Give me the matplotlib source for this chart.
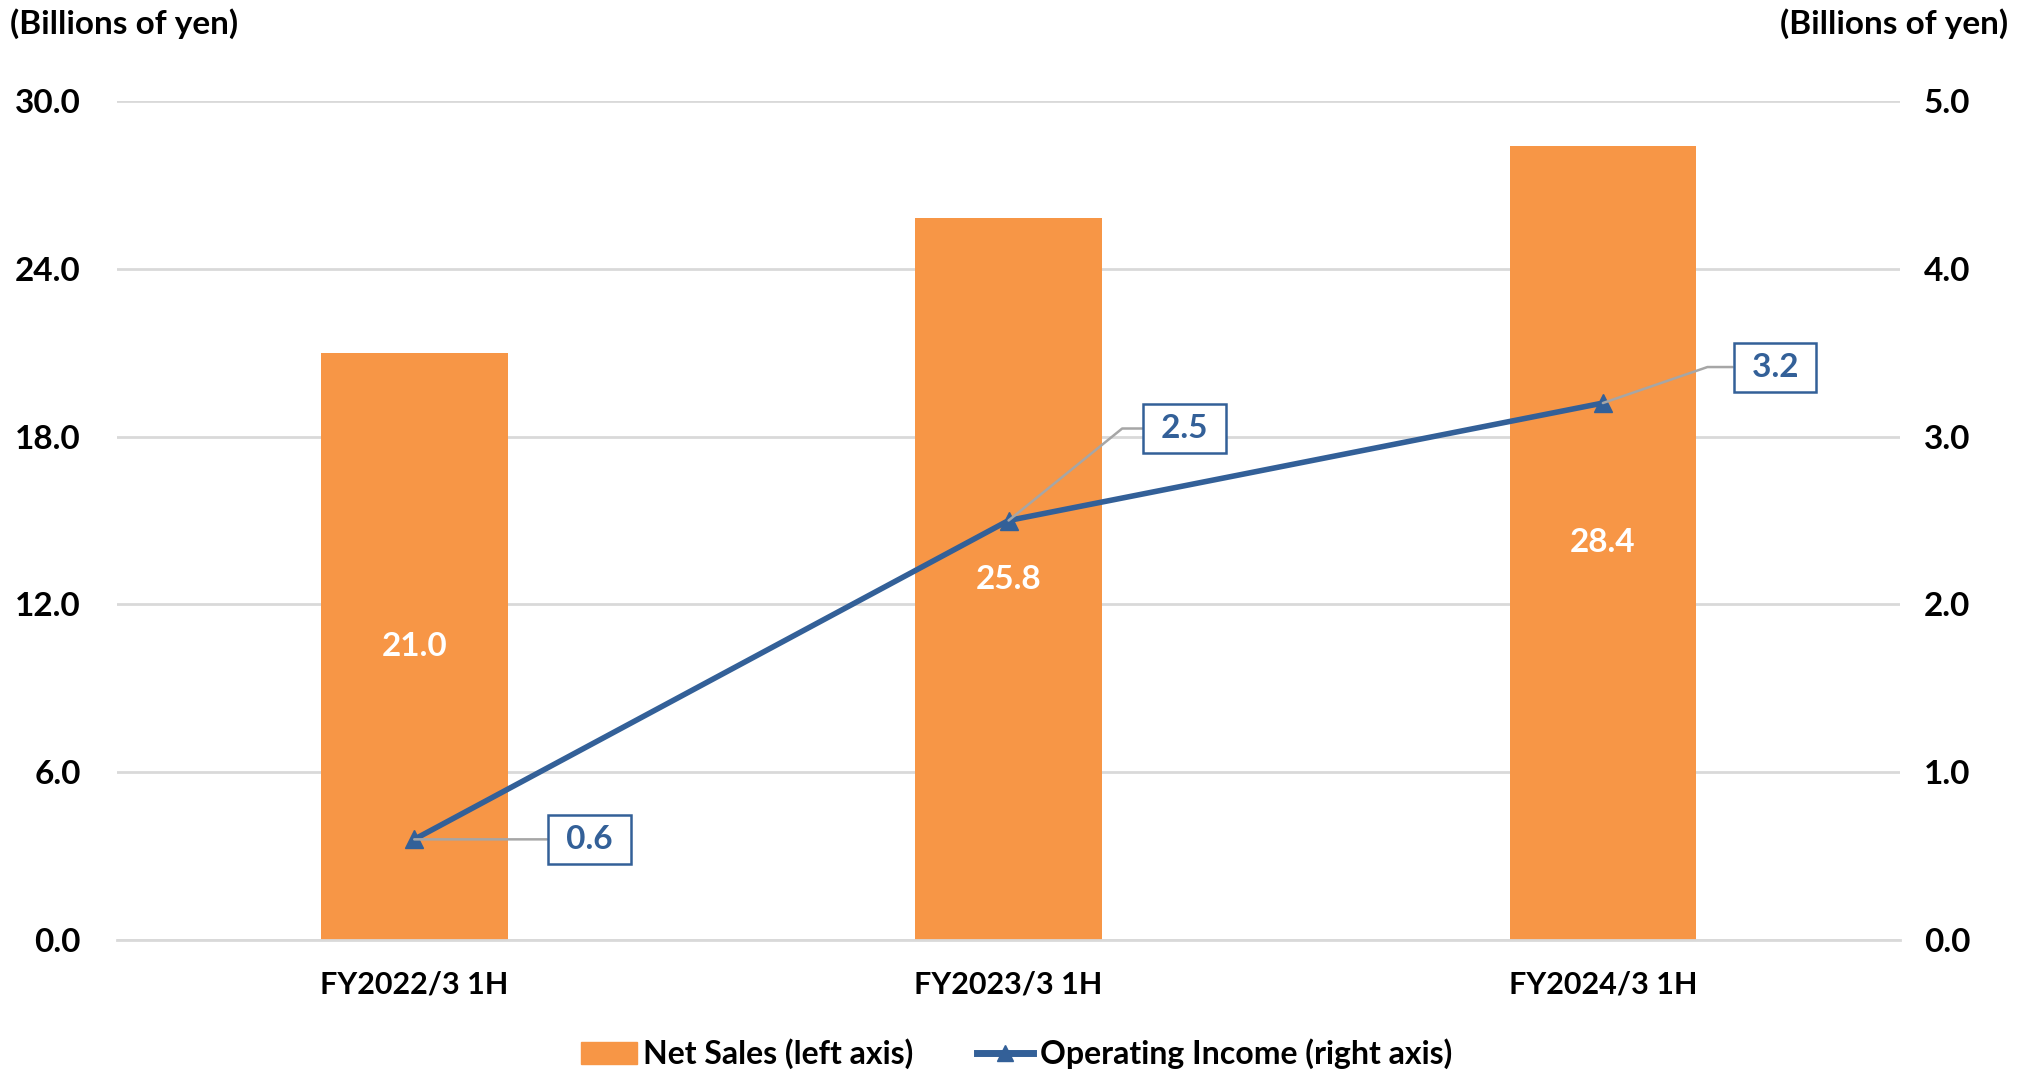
import matplotlib.pyplot as plt
from matplotlib.patches import Patch
from matplotlib.lines import Line2D

categories = ["FY2022/3 1H", "FY2023/3 1H", "FY2024/3 1H"]
net_sales = [21.0, 25.8, 28.4]
op_income = [0.6, 2.5, 3.2]
left_ticks = [0, 6, 12, 18, 24, 30]
right_ticks = [0, 1, 2, 3, 4, 5]

orange = "#F79646"
blue = "#336098"
grid_gray = "#D9D9D9"

plt.rcParams["font.family"] = ["Lato", "DejaVu Sans"]
plt.rcParams["font.weight"] = "bold"
fs = 24

fig = plt.figure(figsize=(20.33, 10.72), dpi=100)
ax = fig.add_axes([0.0576, 0.1231, 0.877, 0.7827])
ax2 = ax.twinx()

x = list(range(len(categories)))
ax.bar(x, net_sales, width=0.314, color=orange, zorder=2)
for xi, v in zip(x, net_sales):
    ax.text(xi, v / 2, "{:.1f}".format(v), ha="center", va="center",
            color="white", fontsize=fs, fontweight="bold", zorder=3)

ax.set_xlim(-0.5, 2.5)
ax.set_ylim(0, 30)
ax.set_yticks(left_ticks)
ax.set_yticklabels(["{:.1f}".format(t) for t in left_ticks])
ax.set_xticks(x)
ax.set_xticklabels(categories)
ax.yaxis.grid(True, color=grid_gray, linewidth=2, zorder=0)
ax.set_axisbelow(True)
ax.tick_params(axis="y", length=0, pad=26, labelsize=fs)
ax.tick_params(axis="x", length=0, pad=22, labelsize=22)
for s in ["top", "left", "right"]:
    ax.spines[s].set_visible(False)
ax.spines["bottom"].set_color(grid_gray)
ax.spines["bottom"].set_linewidth(2)

ax2.plot(x, op_income, color=blue, linewidth=4, marker="^", markersize=13, zorder=4)
ax2.set_ylim(0, 5)
ax2.set_yticks(right_ticks)
ax2.set_yticklabels(["{:.1f}".format(t) for t in right_ticks])
ax2.tick_params(axis="y", length=0, pad=17, labelsize=fs)
for s in ["top", "left", "right", "bottom"]:
    ax2.spines[s].set_visible(False)

offsets = [(175, 0), (176, 92), (172, 36)]
angles = [0, 39, 19]
for xi, v, off, ang in zip(x, op_income, offsets, angles):
    if ang == 0:
        cs = "arc3"
    else:
        cs = "angle,angleA=0,angleB={},rad=0".format(ang)
    ax2.annotate(" {:.1f} ".format(v), xy=(xi, v), xytext=off, textcoords="offset pixels",
                 ha="center", va="center", color=blue, fontsize=fs, fontweight="bold",
                 bbox=dict(boxstyle="square,pad=0.3", fc="white", ec=blue, lw=1.8),
                 arrowprops=dict(arrowstyle="-", color="#A6A6A6", lw=1.8,
                                 connectionstyle=cs, shrinkA=0, shrinkB=0),
                 zorder=5)

fig.text(0.005, 0.978, "(Billions of yen)", ha="left", va="center", fontsize=fs, fontweight="bold")
fig.text(0.988, 0.978, "(Billions of yen)", ha="right", va="center", fontsize=fs, fontweight="bold")

handles = [Patch(color=orange, label="Net Sales (left axis)"),
           Line2D([0], [0], color=blue, linewidth=5, marker="^", markersize=12,
                  label="Operating Income (right axis)")]
fig.legend(handles=handles, loc="center", bbox_to_anchor=(0.5, 0.017), ncol=2,
           frameon=False, fontsize=23, handlelength=1.75, handletextpad=0.2,
           columnspacing=2.0)

fig.savefig("out.png", dpi=100)
